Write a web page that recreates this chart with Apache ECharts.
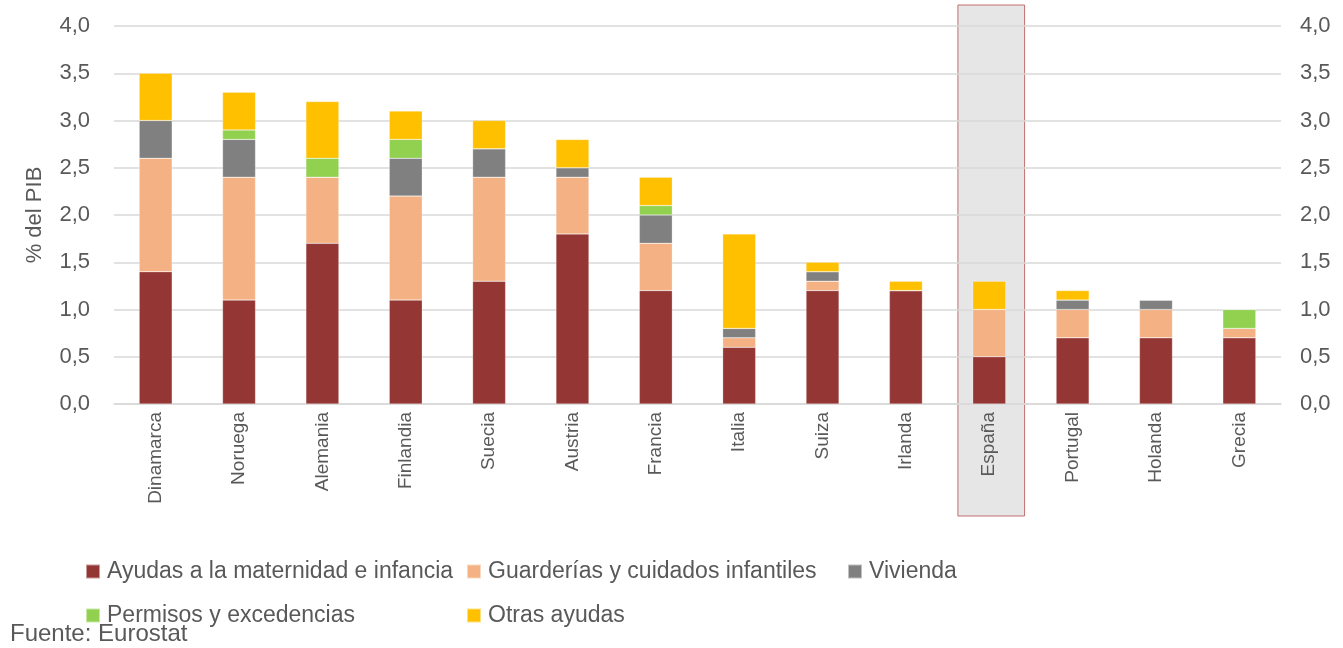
<!DOCTYPE html>
<html><head><meta charset="utf-8">
<script src="https://cdn.jsdelivr.net/npm/echarts@6/dist/echarts.min.js"></script>
<style>html,body{margin:0;padding:0;background:#fff}#c{width:1343px;height:648px}</style>
</head><body><div id="c"></div>
<script>
var categories = ['Dinamarca','Noruega','Alemania','Finlandia','Suecia','Austria','Francia','Italia','Suiza','Irlanda','España','Portugal','Holanda','Grecia'];
var seriesNames = ['Ayudas a la maternidad e infancia','Guarderías y cuidados infantiles','Vivienda','Permisos y excedencias','Otras ayudas'];
var maternidad = [1.4,1.1,1.7,1.1,1.3,1.8,1.2,0.6,1.2,1.2,0.5,0.7,0.7,0.7];
var guarderias = [1.2,1.3,0.7,1.1,1.1,0.6,0.5,0.1,0.1,0.0,0.5,0.3,0.3,0.1];
var vivienda   = [0.4,0.4,0.0,0.4,0.3,0.1,0.3,0.1,0.1,0.0,0.0,0.1,0.1,0.0];
var permisos   = [0.0,0.1,0.2,0.2,0.0,0.0,0.1,0.0,0.0,0.0,0.0,0.0,0.0,0.2];
var otras      = [0.5,0.4,0.6,0.3,0.3,0.3,0.3,1.0,0.1,0.1,0.3,0.1,0.0,0.0];
var yTicks = ['0,0','0,5','1,0','1,5','2,0','2,5','3,0','3,5','4,0'];
var highlight = 'España';
var colors = ['#943634','#f4b183','#808080','#92d050','#ffc000'];
var values = [maternidad, guarderias, vivienda, permisos, otras];

var FONT = 'Liberation Sans';
var txt = '#595959';
var chart = echarts.init(document.getElementById('c'));
var legends = [
  {left: 85, top: 560}, {left: 466, top: 560}, {left: 847, top: 560},
  {left: 85, top: 604}, {left: 466, top: 604}
].map(function(p, i){
  return {left: p.left, top: p.top, padding: 0, data: [seriesNames[i]], itemWidth: 14, itemHeight: 14, itemGap: 6,
    icon: 'rect', selectedMode: false, textStyle: {fontFamily: FONT, fontSize: 23, color: txt, padding: [0,0,0,2]}};
});
function fmt(v){ return yTicks[Math.round(v/0.5)]; }
var fuente = {type: 'text', left: 10, top: 622, style: {text: 'Fuente: Eurostat', font: '24px ' + FONT, fill: txt}};
chart.setOption({
  animation: false,
  textStyle: {fontFamily: FONT},
  grid: {left: 114, right: 62, top: 26, bottom: 244},
  legend: legends,
  xAxis: {type: 'category', data: categories,
    axisTick: {show: false}, axisLine: {lineStyle: {color: '#d9d9d9', width: 1.5}},
    axisLabel: {rotate: 90, margin: 8, fontSize: 19, color: txt, fontFamily: FONT}},
  yAxis: [
    {type: 'value', min: 0, max: 4, interval: 0.5, name: '% del PIB', nameLocation: 'middle', nameGap: 68,
     nameTextStyle: {fontSize: 22, color: txt, fontFamily: FONT},
     axisLabel: {formatter: fmt, fontSize: 22, color: txt, margin: 24, fontFamily: FONT},
     splitLine: {lineStyle: {color: '#d9d9d9', width: 1.5}}, axisLine: {show: false}, axisTick: {show: false}},
    {type: 'value', min: 0, max: 4, interval: 0.5, position: 'right',
     axisLabel: {formatter: fmt, fontSize: 22, color: txt, margin: 19, fontFamily: FONT},
     splitLine: {show: false}, axisLine: {show: false}, axisTick: {show: false}}
  ],
  series: seriesNames.map(function(n, i){
    return {name: n, type: 'bar', stack: 'total', data: values[i], barWidth: 33,
      itemStyle: {color: colors[i], borderColor: 'rgba(255,255,255,0.5)', borderWidth: 0.5}};
  }),
  graphic: [fuente]
});
var cx = chart.convertToPixel({xAxisIndex: 0}, highlight);
var p0 = chart.convertToPixel({xAxisIndex: 0}, categories[0]);
var p1 = chart.convertToPixel({xAxisIndex: 0}, categories[1]);
var band = (p1 - p0) * 0.8;
var yTop = chart.convertToPixel({yAxisIndex: 0}, 4) - 21;
var yBot = chart.convertToPixel({yAxisIndex: 0}, 0) + 112;
chart.setOption({graphic: [
  fuente,
  {type: 'rect', z: -1, shape: {x: cx - band/2 + 2, y: yTop, width: band, height: yBot - yTop},
   style: {fill: '#e6e6e6', stroke: '#c07070', lineWidth: 1}}
]});
</script></body></html>
